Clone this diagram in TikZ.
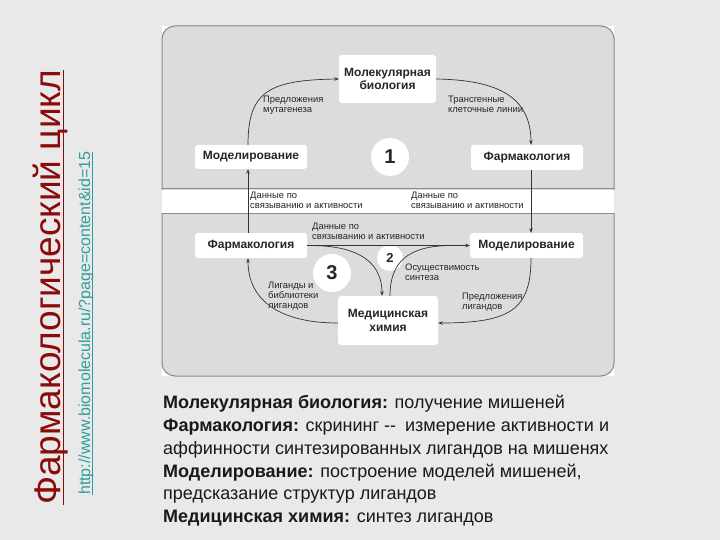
\documentclass[tikz,border=0pt]{standalone}
\usepackage{fontspec}
\setmainfont{Liberation Sans}
\usetikzlibrary{arrows.meta}
\definecolor{bgc}{HTML}{E9E9E9}
\definecolor{panelc}{HTML}{DCDCDC}
\definecolor{panelline}{HTML}{8A8A8A}
\definecolor{titlec}{HTML}{8B0A0A}
\definecolor{urlc}{HTML}{2E9E9E}
\definecolor{linec}{HTML}{333333}
\tikzset{
  box/.style={fill=white, rounded corners=3pt, inner sep=0pt, align=center,
    font=\fontsize{12}{13.5}\selectfont\bfseries, text=black!85},
  numc/.style={circle, fill=white, inner sep=0pt, font=\bfseries, text=black!85},
  lbl/.style={anchor=north west, inner sep=0pt, align=left,
    font=\fontsize{9.4}{10}\selectfont, text=black!85},
  arr/.style={draw=linec, line width=0.7pt, -{Stealth[length=4.5pt,width=3.5pt]}},
  ln/.style={draw=linec, line width=0.7pt},
  pan/.style={fill=panelc, draw=panelline, line width=1pt},
  body/.style={anchor=base west, inner sep=0pt, font=\fontsize{18}{22}\selectfont, text=black!90}
}
\begin{document}
\begin{tikzpicture}[x=1pt,y=-1pt]
\useasboundingbox (0,0) rectangle (720,540);
\fill[bgc] (0,0) rectangle (720,540);
\fill[white] (162,26) rectangle (614,376);
% top panel
\begin{scope}
  \clip (150,15) rectangle (630,189.5);
  \path[pan, rounded corners=13pt] (162,26) rectangle (614,215);
\end{scope}
\draw[panelline, line width=1pt] (162,189) -- (614,189);
% lower panel
\begin{scope}
  \clip (150,213.5) rectangle (630,390);
  \path[pan, rounded corners=13pt] (162,190) rectangle (614,376);
\end{scope}
\draw[panelline, line width=1pt] (162,214) -- (614,214);

% nodes
\node[box, minimum width=97pt, minimum height=48pt] (mb) at (387.5,79) {Молекулярная\\биология};
\node[box, minimum width=112pt, minimum height=24pt] (mod1) at (251,157) {Моделирование};
\node[box, minimum width=112pt, minimum height=25pt] (ph1) at (527,157.5) {Фармакология};
\node[numc, minimum size=38pt, font=\fontsize{20}{20}\selectfont\bfseries] (c1) at (390,157) {1};
\node[box, minimum width=112pt, minimum height=25pt] (ph2) at (251,245.5) {Фармакология};
\node[box, minimum width=113pt, minimum height=25pt] (mod2) at (526.5,245.5) {Моделирование};
\node[box, minimum width=100pt, minimum height=49pt] (mc) at (388,320.5) {Медицинская\\химия};
\node[numc, minimum size=38pt, font=\fontsize{20}{20}\selectfont\bfseries] (c3) at (332,273) {3};
\node[numc, minimum size=26pt, font=\fontsize{13}{13}\selectfont\bfseries] (c2) at (390,258) {2};

\coordinate (lx) at (248,0);
\coordinate (rx) at (531,0);
\coordinate (mcl) at (382,0);
\coordinate (mcr) at (390,0);

% connectors
\draw[arr] (mod1.north -| lx) .. controls (248,92) and (268,80) .. (mb.west);
\draw[arr] (mb.east) .. controls (495,80) and (531,95) .. (ph1.north -| rx);
\draw[arr] (ph1.south -| rx) -- (mod2.north -| rx);
\draw[arr] (ph2.north -| lx) -- (mod1.south -| lx);
\draw[arr] (ph2.east) -- (mod2.west);
\draw[arr] (ph2.east) .. controls (352,245) and (382,258) .. (mc.north -| mcl);
\draw[ln] (mc.north -| mcr) .. controls (390,262) and (408,246) .. (450,245.5);
\draw[arr] (mod2.south -| rx) .. controls (531,310) and (510,323) .. (mc.east |- 0,323);
\draw[arr] (mc.west |- 0,323) .. controls (282,323) and (248,302) .. (ph2.south -| lx);

% labels
\node[lbl] (l1) at (263,96) {Предложения\\мутагенеза};
\node[lbl] (l2) at (448,96) {Трансгенные\\клеточные линии};
\node[lbl] (l3) at (250,192) {Данные по\\связыванию и активности};
\node[lbl] (l4) at (411,192) {Данные по\\связыванию и активности};
\node[lbl] (l5) at (312,223) {Данные по\\связыванию и активности};
\node[lbl] (l6) at (405,264) {Осуществимость\\синтеза};
\node[lbl] (l7) at (268,282) {Лиганды и\\библиотеки\\лигандов};
\node[lbl] (l8) at (462,293) {Предложения\\лигандов};

% side titles
\node[rotate=90, anchor=base west, inner sep=0pt, text=titlec,
  font=\fontsize{37}{37}\selectfont] (title) at (60,505) {Фармакологический цикл};
\draw[titlec, line width=1.6pt] (63.5,505) -- (63.5,70);
\node[rotate=90, anchor=base west, inner sep=0pt, text=urlc,
  font=\fontsize{16}{16}\selectfont] (url) at (90,495) {http://www.biomolecula.ru/?page=content\&id=15};
\draw[urlc, line width=0.8pt] (92,495) -- (92,152);

% body text
\node[body] (t1) at (163,408) {\textbf{Молекулярная биология:} получение мишеней};
\node[body] (t2) at (163,431) {\textbf{Фармакология:} скрининг -{}-\enspace измерение активности и};
\node[body] (t3) at (163,454) {аффинности синтезированных лигандов на мишенях};
\node[body] (t4) at (163,477) {\textbf{Моделирование:} построение моделей мишеней,};
\node[body] (t5) at (163,499) {предсказание структур лигандов};
\node[body] (t6) at (163,522) {\textbf{Медицинская химия:} синтез лигандов};
\end{tikzpicture}
\end{document}
